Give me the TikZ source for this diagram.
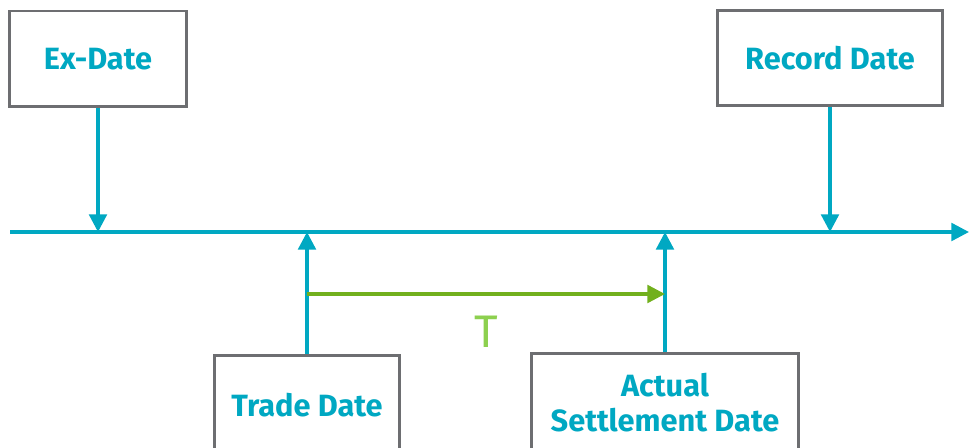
\documentclass[tikz,border=0pt]{standalone}
\usepackage{fontspec}
\setmainfont{Fira Sans}
\usetikzlibrary{arrows.meta}
\definecolor{dateteal}{HTML}{00A8C2}
\definecolor{boxgray}{HTML}{6D6E71}
\definecolor{spangreen}{HTML}{72B01D}
\definecolor{tgreen}{HTML}{8DD04F}

\begin{document}
\begin{tikzpicture}[x=0.02cm, y=-0.02cm,
  datebox/.style={draw=boxgray, line width=1.7pt, fill=white, text=dateteal, align=center, font=\bfseries\fontsize{17.5}{20}\selectfont},
  tealarrow/.style={dateteal, line width=1.9pt, -{Triangle[length=10pt, width=10pt]}},
  greenarrow/.style={spangreen, line width=1.9pt, -{Triangle[length=10pt, width=10pt]}}]
\useasboundingbox (0,0) rectangle (969,448);
\clip (0,0) rectangle (969,448);
% boxes
\node[datebox, minimum width=3.56cm, minimum height=1.92cm] (exdate) at (98, 59) {Ex-Date};
\node[datebox, minimum width=4.5cm, minimum height=1.9cm] (record) at (830, 58) {Record Date};
\node[datebox, minimum width=3.72cm, minimum height=2cm] (trade) at (307, 405) {Trade Date};
\node[datebox, minimum width=5.34cm, minimum height=2cm] (settle) at (665, 403) {Actual\\Settlement Date};
% time line
\coordinate (tstart) at (10, 232);
\coordinate (tend) at (969, 232);
\draw[tealarrow] (tstart) -- (tend);
\draw[tealarrow] (exdate.south) -- (exdate.south |- tstart);
\draw[tealarrow] (record.south) -- (record.south |- tstart);
\draw[tealarrow] (trade.north) -- (trade.north |- tstart);
\draw[tealarrow] (settle.north) -- (settle.north |- tstart);
% settlement period
\coordinate (tspan) at (307, 294);
\draw[greenarrow] (tspan) -- (tspan -| settle.north) node[midway, below=0.3cm, text=tgreen, font=\fontsize{26}{30}\selectfont] (tlabel) {T};
\end{tikzpicture}
\end{document}
